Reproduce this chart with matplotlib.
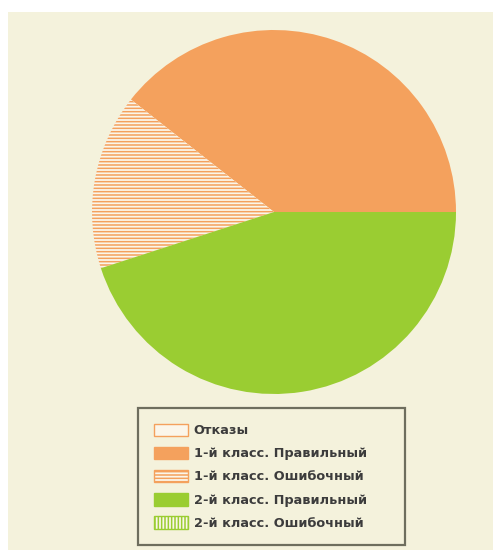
import matplotlib.pyplot as plt
import matplotlib.patches as mpatches

# доли секторов (в процентах), порядок как в легенде
labels = ['Отказы', '1-й класс. Правильный', '1-й класс. Ошибочный',
          '2-й класс. Правильный', '2-й класс. Ошибочный']
values = [0, 39.4, 15.6, 45.0, 0]

orange = '#F4A15D'
green = '#9ACD32'
cream = '#FBF6EA'
bg = '#F4F2DC'

faces = [cream, orange, cream, green, cream]
edges = [orange, orange, orange, green, green]
hatches = [None, None, '-----', None, '|||||']

plt.rcParams['font.family'] = ['DejaVu Sans']
plt.rcParams['hatch.linewidth'] = 1.1

W, H = 493, 550
fig = plt.figure(figsize=(W / 100, H / 100), dpi=100, facecolor='white')
fig.add_artist(mpatches.Rectangle((8 / W, 0), (W - 8) / W, (H - 12) / H,
                                  transform=fig.transFigure, facecolor=bg,
                                  edgecolor='none', zorder=0))

# круговая диаграмма
cx, cy, r = 274, 212, 182
ax = fig.add_axes([(cx - r) / W, (H - cy - r) / H, 2 * r / W, 2 * r / H])
wedges, _ = ax.pie(values, colors=faces, startangle=0, counterclock=True,
                   wedgeprops=dict(linewidth=0))
for w, ec, h in zip(wedges, edges, hatches):
    w.set_edgecolor(ec)
    if h:
        w.set_hatch(h)
ax.set_xlim(-1, 1)
ax.set_ylim(-1, 1)
ax.set_aspect('auto')

# легенда
handles = []
for fc, ec, h in zip(faces, edges, hatches):
    handles.append(mpatches.Patch(facecolor=fc, edgecolor=ec, hatch=h,
                                  linewidth=1.0))
x0, y0, x1, y1 = 138, 408, 405, 548
leg = fig.legend(handles, labels, loc='upper left',
                 bbox_to_anchor=(x0 / W, 1 - y1 / H, (x1 - x0) / W, (y1 - y0) / H),
                 mode='expand', borderaxespad=0,
                 prop=dict(size=9.3, weight='bold'),
                 handlelength=2.7, handleheight=1.15, handletextpad=0.4,
                 labelspacing=0.72, borderpad=1.2, fancybox=False,
                 framealpha=1, facecolor=bg, edgecolor='#6E6E5E')
leg.get_frame().set_linewidth(1.6)
for t in leg.get_texts():
    t.set_color('#3C3C3C')

fig.savefig('out.png', dpi=100, facecolor='white')
